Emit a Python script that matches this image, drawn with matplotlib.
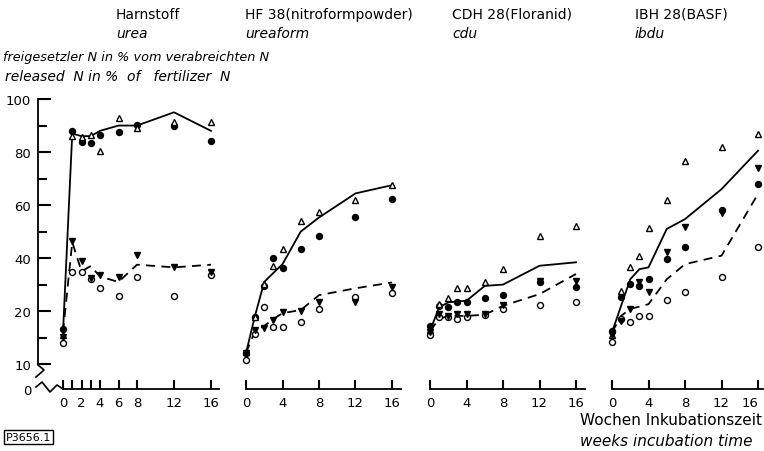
import numpy as np
import matplotlib
matplotlib.use("Agg")
import matplotlib.pyplot as plt
from matplotlib.lines import Line2D

plt.rcParams['font.family'] = ['DejaVu Sans']

# ---------------- data ----------------
weeks = [0, 1, 2, 3, 4, 6, 8, 12, 16]

# urea (Harnstoff)
urea_solid = [16, 87, 86, 86, 88, 90, 90, 95, 88]
urea_dashed = [16, 46, 35, 37, 33, 31, 37.5, 36.5, 37.5]
urea_fcirc = [16.6, 87.8, 83.9, 83.3, 86.5, 87.7, 90.2, 89.9, 84]
urea_otri = [15.5, 86, 85.8, 86.5, 80.5, 92.7, 89, 91.5, 91.2]
urea_ocirc = [14, 34.6, 34.6, 32, 28.7, 25.8, 32.7, 25.8, 33.6]
urea_ftri = [15.1, 46.5, 39, 32.5, 33.6, 32.8, 41, 36.7, 34.8]

# ureaform (HF 38)
uf_solid = [12.1, 19.2, 31, 34.4, 37.7, 50, 55.3, 64.4, 67.5]
uf_dashed = [12.1, 16.3, 17.2, 18.5, 19.6, 20.4, 26, 28.6, 30.8]
uf_fcirc = [12, 18.9, 29.5, 40.2, 36.1, 43.4, 48.2, 55.6, 62.3]
uf_otri = [12.3, 18.9, 30.2, 37.1, 43.6, 54.1, 57.5, 62, 67.5]
uf_ocirc = [10.8, 15.7, 21.4, 17, 17, 18, 20.7, 25.2, 27]
uf_ftri = [12, 16.4, 16.8, 18.3, 19.8, 20, 23.3, 23.3, 29]

# cdu (CDH 28)
cdu_solid = [16.3, 21.4, 23.3, 23.6, 23.9, 29.5, 30, 37.1, 38.4]
cdu_dashed = [16.3, 18.5, 19.1, 19.1, 19.1, 19.3, 22, 26.4, 34]
cdu_fcirc = [17.2, 22, 21.4, 23.5, 23.5, 24.9, 26, 30.8, 29]
cdu_otri = [16.5, 22.6, 24.9, 28.6, 28.6, 31, 35.8, 48.2, 52.2]
cdu_ocirc = [15.5, 18.8, 18.8, 18.6, 18.8, 19.2, 20.8, 22.3, 23.5]
cdu_ftri = [16, 19.4, 19, 19.4, 19.4, 19.4, 22.3, 31.4, 31.4]

# ibdu (IBH 28)
ib_solid = [16, 22, 32, 35.8, 36.5, 51, 54.7, 66, 80.5]
ib_dashed = [16, 19.1, 20.8, 21.7, 22.6, 32, 37.7, 40.9, 64.2]
ib_fcirc = [16.3, 25.2, 30.2, 29.5, 32, 39.6, 44, 58.2, 67.9]
ib_otri = [15.5, 27.7, 36.5, 40.9, 51.2, 61.9, 76.7, 81.8, 86.8]
ib_ocirc = [14.2, 18.5, 18, 19.1, 19.1, 24.1, 27.3, 32.7, 44]
ib_ftri = [15.5, 18.2, 20.8, 30.8, 27.3, 42.4, 51.6, 57, 73.8]

panel_titles = [("Harnstoff", "urea"),
                ("HF 38(nitroformpowder)", "ureaform"),
                ("CDH 28(Floranid)", "cdu"),
                ("IBH 28(BASF)", "ibdu")]

y_ticks = [0, 10, 15, 20, 30, 40, 50, 60, 70, 80, 90, 100]
y_ticklabels = ["0", "10", "", "20", "", "40", "", "60", "", "80", "", "100"]
x_ticks_1 = [0, 1, 2, 3, 4, 6, 8, 12, 16]
x_labels_1 = ["0", "", "2", "", "4", "6", "8", "12", "16"]
x_ticks_n = [0, 4, 8, 12, 16]
x_labels_n = ["0", "4", "8", "12", "16"]

panels = [
    (urea_solid, urea_dashed, urea_fcirc, urea_otri, urea_ocirc, urea_ftri),
    (uf_solid, uf_dashed, uf_fcirc, uf_otri, uf_ocirc, uf_ftri),
    (cdu_solid, cdu_dashed, cdu_fcirc, cdu_otri, cdu_ocirc, cdu_ftri),
    (ib_solid, ib_dashed, ib_fcirc, ib_otri, ib_ocirc, ib_ftri),
]

# ---------------- broken / stretched y scale ----------------
def fwd(v):
    v = np.asarray(v, dtype=float)
    return np.where(v >= 20, v, np.where(v >= 10, 2 * v - 20, -9.4 + 0.94 * v))

def inv(d):
    d = np.asarray(d, dtype=float)
    return np.where(d >= 20, d, np.where(d >= 0, (d + 20) / 2, (d + 9.4) / 0.94))

W, H = 764, 452
fig = plt.figure(figsize=(W / 100, H / 100), dpi=100)

def px(x, y):
    return x / W, 1 - y / H

bottom = (H - 390) / H
height = 292.6 / H
# (px of week 0, px per week, xlim)
layout = [(63, 9.25, (-2.7, 16.9)),
          (246, 9.125, (-0.5, 17.2)),
          (430, 9.125, (-0.5, 17.2)),
          (612, 9.125, (-0.5, 16.6))]

for i, (data, (x0, s, xl)) in enumerate(zip(panels, layout)):
    left = (x0 + xl[0] * s) / W
    width = (xl[1] - xl[0]) * s / W
    ax = fig.add_axes([left, bottom, width, height])
    ax.set_yscale('function', functions=(fwd, inv))
    ax.set_xlim(*xl)
    ax.set_ylim(0, 101)
    ax.patch.set_alpha(0)
    solid, dashed, fc, ot, oc, ft = data
    ax.plot(weeks, solid, color='black', lw=1.3, zorder=2)
    ax.plot(weeks, dashed, color='black', lw=1.3, dashes=(5, 3.5), zorder=2)
    ms = 4.3
    ax.plot(weeks, fc, 'o', color='black', ms=ms, zorder=3)
    ax.plot(weeks, ot, '^', mfc='white', mec='black', mew=1, ms=ms, zorder=3)
    ax.plot(weeks, oc, 'o', mfc='white', mec='black', mew=1, ms=ms, zorder=3)
    ax.plot(weeks, ft, 'v', color='black', ms=ms, zorder=3)

    for sp in ('top', 'right'):
        ax.spines[sp].set_visible(False)
    ax.spines['bottom'].set_linewidth(1.3)
    ax.spines['bottom'].set_bounds(0, min(17, xl[1]))
    if i == 0:
        ax.set_xticks(x_ticks_1)
        ax.set_xticklabels(x_labels_1)
        ax.spines['left'].set_linewidth(1.3)
        ax.spines['left'].set_bounds(10, 100)
        ax.set_yticks(y_ticks)
        ax.set_yticklabels(y_ticklabels)
        ax.yaxis.set_minor_locator(matplotlib.ticker.NullLocator())
        ax.tick_params(axis='y', direction='in', length=9, width=1.5,
                       pad=5, labelsize=9.5)
        for t, lab in zip(ax.yaxis.get_major_ticks(), y_ticklabels):
            if lab == "":
                t.tick1line.set_markersize(6.5)
        ax.yaxis.get_major_ticks()[0].tick1line.set_visible(False)
    else:
        ax.set_xticks(x_ticks_n)
        ax.set_xticklabels(x_labels_n)
        ax.spines['left'].set_visible(False)
        ax.set_yticks([])
        ax.yaxis.set_minor_locator(matplotlib.ticker.NullLocator())
    ax.tick_params(axis='x', direction='in', length=6.5, width=1.5,
                   pad=5, labelsize=9.5)
    if i == 3:
        ax.get_xticklabels()[-1].set_horizontalalignment('right')
        ax.get_xticklabels()[-1].set_x(16.25)

    t1, t2 = panel_titles[i]
    tx = [116, 245, 452, 635][i]
    fig.text(*px(tx, 15), t1, fontsize=10, va='center', ha='left')
    fig.text(*px(tx, 34), t2, fontsize=10, va='center', ha='left', style='italic')

# axis break marks
zig1 = [(38, 366), (44, 371), (36, 378)]
zig2 = [(36, 388), (42, 383), (50, 393), (57, 386), (63, 390)]
for z in (zig1, zig2):
    xs = [px(a, b)[0] for a, b in z]
    ys = [px(a, b)[1] for a, b in z]
    fig.add_artist(Line2D(xs, ys, color='black', lw=1.2, transform=fig.transFigure))

fig.text(*px(3, 57), "freigesetzler N in % vom verabreichten N", fontsize=9.3,
         va='center', ha='left', style='italic')
fig.text(*px(5, 77), "released  N in %  of   fertilizer  N", fontsize=10,
         va='center', ha='left', style='italic')
fig.text(*px(580, 421), "Wochen Inkubationszeit", fontsize=11, va='center', ha='left')
fig.text(*px(580, 442), "weeks incubation time", fontsize=11, va='center', ha='left',
         style='italic')
fig.text(*px(6, 438), "P3656.1", fontsize=8, va='center', ha='left',
         bbox=dict(boxstyle='square,pad=0.15', fc='white', ec='black', lw=1))

fig.savefig("out.png", dpi=100)
